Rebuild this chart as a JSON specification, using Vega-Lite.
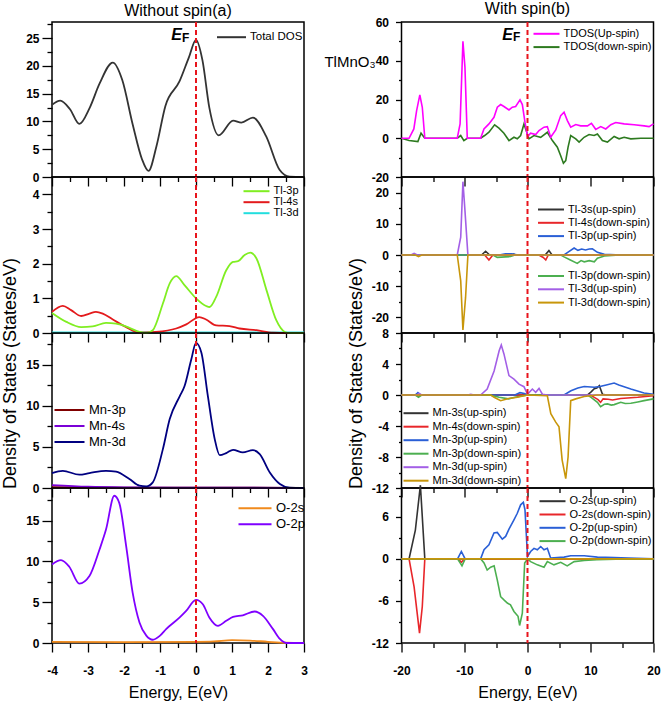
{
  "$schema": "https://vega.github.io/schema/vega-lite/v6.json",
  "padding": {"left": 0, "top": 0, "right": 4, "bottom": 4},
  "background": "#ffffff",
  "config": {
    "font": "Liberation Sans",
    "view": {"stroke": "#000000", "strokeWidth": 1.5},
    "axis": {"domain": false, "grid": false, "tickColor": "#000000", "tickWidth": 1.3, "labelFont": "Liberation Sans", "labelFontWeight": "bold", "labelFontSize": 12, "labelColor": "#000000", "labelOverlap": false, "labelFlush": false, "labelBound": false, "titleFont": "Liberation Sans", "titleFontWeight": "normal", "titleColor": "#000000"},
    "legend": {"orient": "none", "padding": 0, "labelFont": "Liberation Sans", "labelColor": "#000000", "symbolStrokeWidth": 2, "labelOffset": 3, "rowPadding": 1, "symbolSize": 100},
    "title": {"font": "Liberation Sans", "fontWeight": "normal", "fontSize": 16, "color": "#000000"},
    "text": {"font": "Liberation Sans"}
  },
  "datasets": {
    "L1": [
      {"x": -4.0, "y": 13.0, "s": "Total DOS"}, {"x": -3.77, "y": 13.75, "s": "Total DOS"}, {"x": -3.5, "y": 12.2, "s": "Total DOS"}, {"x": -3.24, "y": 9.55, "s": "Total DOS"}, {"x": -2.95, "y": 12.5, "s": "Total DOS"}, {"x": -2.68, "y": 16.8, "s": "Total DOS"}, {"x": -2.31, "y": 20.6, "s": "Total DOS"}, {"x": -2.05, "y": 17.5, "s": "Total DOS"}, {"x": -1.76, "y": 9.5, "s": "Total DOS"}, {"x": -1.5, "y": 3.2, "s": "Total DOS"}, {"x": -1.32, "y": 1.1, "s": "Total DOS"}, {"x": -1.1, "y": 5.5, "s": "Total DOS"}, {"x": -0.85, "y": 12.8, "s": "Total DOS"}, {"x": -0.46, "y": 17.2, "s": "Total DOS"}, {"x": -0.2, "y": 21.5, "s": "Total DOS"}, {"x": 0.0, "y": 24.7, "s": "Total DOS"}, {"x": 0.18, "y": 21.0, "s": "Total DOS"}, {"x": 0.37, "y": 12.5, "s": "Total DOS"}, {"x": 0.63, "y": 7.5, "s": "Total DOS"}, {"x": 1.03, "y": 10.15, "s": "Total DOS"}, {"x": 1.26, "y": 9.8, "s": "Total DOS"}, {"x": 1.58, "y": 10.7, "s": "Total DOS"}, {"x": 1.95, "y": 7.3, "s": "Total DOS"}, {"x": 2.32, "y": 1.3, "s": "Total DOS"}, {"x": 2.6, "y": 0.05, "s": "Total DOS"}, {"x": 3.0, "y": 0.0, "s": "Total DOS"}
    ],
    "L2": [
      {"x": -4.0, "y": 0.02, "s": "Tl-3d"}, {"x": 3.0, "y": 0.02, "s": "Tl-3d"},
      {"x": -4.0, "y": 0.61, "s": "Tl-4s"}, {"x": -3.7, "y": 0.78, "s": "Tl-4s"}, {"x": -3.47, "y": 0.66, "s": "Tl-4s"}, {"x": -3.19, "y": 0.49, "s": "Tl-4s"}, {"x": -2.96, "y": 0.56, "s": "Tl-4s"}, {"x": -2.78, "y": 0.61, "s": "Tl-4s"}, {"x": -2.59, "y": 0.56, "s": "Tl-4s"}, {"x": -2.31, "y": 0.39, "s": "Tl-4s"}, {"x": -1.94, "y": 0.17, "s": "Tl-4s"}, {"x": -1.57, "y": 0.01, "s": "Tl-4s"}, {"x": -1.11, "y": 0.03, "s": "Tl-4s"}, {"x": -0.55, "y": 0.13, "s": "Tl-4s"}, {"x": -0.27, "y": 0.25, "s": "Tl-4s"}, {"x": 0.09, "y": 0.46, "s": "Tl-4s"}, {"x": 0.28, "y": 0.39, "s": "Tl-4s"}, {"x": 0.56, "y": 0.22, "s": "Tl-4s"}, {"x": 0.93, "y": 0.2, "s": "Tl-4s"}, {"x": 1.21, "y": 0.13, "s": "Tl-4s"}, {"x": 1.68, "y": 0.08, "s": "Tl-4s"}, {"x": 2.14, "y": 0.01, "s": "Tl-4s"}, {"x": 2.51, "y": 0.0, "s": "Tl-4s"}, {"x": 3.0, "y": 0.0, "s": "Tl-4s"},
      {"x": -4.0, "y": 0.58, "s": "Tl-3p"}, {"x": -3.6, "y": 0.32, "s": "Tl-3p"}, {"x": -3.19, "y": 0.17, "s": "Tl-3p"}, {"x": -2.87, "y": 0.19, "s": "Tl-3p"}, {"x": -2.5, "y": 0.29, "s": "Tl-3p"}, {"x": -2.22, "y": 0.27, "s": "Tl-3p"}, {"x": -1.85, "y": 0.15, "s": "Tl-3p"}, {"x": -1.57, "y": 0.03, "s": "Tl-3p"}, {"x": -1.38, "y": 0.0, "s": "Tl-3p"}, {"x": -1.2, "y": 0.08, "s": "Tl-3p"}, {"x": -0.92, "y": 0.85, "s": "Tl-3p"}, {"x": -0.73, "y": 1.43, "s": "Tl-3p"}, {"x": -0.55, "y": 1.64, "s": "Tl-3p"}, {"x": -0.32, "y": 1.38, "s": "Tl-3p"}, {"x": 0.0, "y": 1.0, "s": "Tl-3p"}, {"x": 0.28, "y": 0.78, "s": "Tl-3p"}, {"x": 0.38, "y": 0.75, "s": "Tl-3p"}, {"x": 0.56, "y": 1.04, "s": "Tl-3p"}, {"x": 0.84, "y": 1.81, "s": "Tl-3p"}, {"x": 1.03, "y": 2.05, "s": "Tl-3p"}, {"x": 1.17, "y": 2.07, "s": "Tl-3p"}, {"x": 1.35, "y": 2.25, "s": "Tl-3p"}, {"x": 1.51, "y": 2.32, "s": "Tl-3p"}, {"x": 1.68, "y": 2.15, "s": "Tl-3p"}, {"x": 1.96, "y": 1.23, "s": "Tl-3p"}, {"x": 2.23, "y": 0.37, "s": "Tl-3p"}, {"x": 2.47, "y": 0.03, "s": "Tl-3p"}, {"x": 2.6, "y": 0.0, "s": "Tl-3p"}, {"x": 3.0, "y": 0.0, "s": "Tl-3p"}
    ],
    "L3": [
      {"x": -4.0, "y": 0.1, "s": "Mn-3p"}, {"x": -2.0, "y": 0.05, "s": "Mn-3p"}, {"x": 0.0, "y": 0.05, "s": "Mn-3p"}, {"x": 3.0, "y": 0.02, "s": "Mn-3p"},
      {"x": -4.0, "y": 0.35, "s": "Mn-4s"}, {"x": -3.0, "y": 0.15, "s": "Mn-4s"}, {"x": -2.0, "y": 0.08, "s": "Mn-4s"}, {"x": 0.0, "y": 0.05, "s": "Mn-4s"}, {"x": 2.5, "y": 0.02, "s": "Mn-4s"}, {"x": 3.0, "y": 0.0, "s": "Mn-4s"},
      {"x": -4.0, "y": 1.82, "s": "Mn-3d"}, {"x": -3.7, "y": 2.1, "s": "Mn-3d"}, {"x": -3.24, "y": 1.62, "s": "Mn-3d"}, {"x": -2.96, "y": 1.82, "s": "Mn-3d"}, {"x": -2.5, "y": 2.1, "s": "Mn-3d"}, {"x": -2.22, "y": 1.99, "s": "Mn-3d"}, {"x": -1.85, "y": 1.1, "s": "Mn-3d"}, {"x": -1.57, "y": 0.28, "s": "Mn-3d"}, {"x": -1.38, "y": 0.2, "s": "Mn-3d"}, {"x": -1.2, "y": 0.69, "s": "Mn-3d"}, {"x": -0.92, "y": 4.74, "s": "Mn-3d"}, {"x": -0.73, "y": 8.4, "s": "Mn-3d"}, {"x": -0.45, "y": 11.2, "s": "Mn-3d"}, {"x": -0.32, "y": 12.4, "s": "Mn-3d"}, {"x": -0.13, "y": 15.7, "s": "Mn-3d"}, {"x": 0.0, "y": 17.7, "s": "Mn-3d"}, {"x": 0.15, "y": 16.5, "s": "Mn-3d"}, {"x": 0.33, "y": 11.2, "s": "Mn-3d"}, {"x": 0.52, "y": 5.96, "s": "Mn-3d"}, {"x": 0.66, "y": 4.0, "s": "Mn-3d"}, {"x": 0.84, "y": 4.26, "s": "Mn-3d"}, {"x": 1.03, "y": 4.66, "s": "Mn-3d"}, {"x": 1.3, "y": 4.34, "s": "Mn-3d"}, {"x": 1.58, "y": 4.62, "s": "Mn-3d"}, {"x": 1.77, "y": 4.13, "s": "Mn-3d"}, {"x": 2.05, "y": 1.9, "s": "Mn-3d"}, {"x": 2.33, "y": 0.49, "s": "Mn-3d"}, {"x": 2.6, "y": 0.04, "s": "Mn-3d"}, {"x": 3.0, "y": 0.0, "s": "Mn-3d"}
    ],
    "L4": [
      {"x": -4.0, "y": 0.15, "s": "O-2s"}, {"x": -2.0, "y": 0.1, "s": "O-2s"}, {"x": 0.0, "y": 0.15, "s": "O-2s"}, {"x": 0.5, "y": 0.2, "s": "O-2s"}, {"x": 1.0, "y": 0.35, "s": "O-2s"}, {"x": 1.5, "y": 0.3, "s": "O-2s"}, {"x": 2.0, "y": 0.15, "s": "O-2s"}, {"x": 2.5, "y": 0.03, "s": "O-2s"}, {"x": 3.0, "y": 0.0, "s": "O-2s"},
      {"x": -4.0, "y": 9.63, "s": "O-2p"}, {"x": -3.75, "y": 10.16, "s": "O-2p"}, {"x": -3.52, "y": 9.35, "s": "O-2p"}, {"x": -3.24, "y": 7.28, "s": "O-2p"}, {"x": -2.96, "y": 8.2, "s": "O-2p"}, {"x": -2.68, "y": 11.46, "s": "O-2p"}, {"x": -2.5, "y": 13.9, "s": "O-2p"}, {"x": -2.27, "y": 18.05, "s": "O-2p"}, {"x": -2.13, "y": 17.15, "s": "O-2p"}, {"x": -1.94, "y": 11.87, "s": "O-2p"}, {"x": -1.76, "y": 6.18, "s": "O-2p"}, {"x": -1.57, "y": 2.52, "s": "O-2p"}, {"x": -1.38, "y": 0.9, "s": "O-2p"}, {"x": -1.2, "y": 0.4, "s": "O-2p"}, {"x": -1.0, "y": 0.9, "s": "O-2p"}, {"x": -0.83, "y": 1.7, "s": "O-2p"}, {"x": -0.46, "y": 3.1, "s": "O-2p"}, {"x": -0.28, "y": 3.9, "s": "O-2p"}, {"x": 0.0, "y": 5.28, "s": "O-2p"}, {"x": 0.19, "y": 4.75, "s": "O-2p"}, {"x": 0.37, "y": 3.13, "s": "O-2p"}, {"x": 0.61, "y": 2.11, "s": "O-2p"}, {"x": 0.84, "y": 2.72, "s": "O-2p"}, {"x": 1.03, "y": 3.2, "s": "O-2p"}, {"x": 1.3, "y": 3.4, "s": "O-2p"}, {"x": 1.63, "y": 3.86, "s": "O-2p"}, {"x": 1.86, "y": 3.33, "s": "O-2p"}, {"x": 2.14, "y": 1.7, "s": "O-2p"}, {"x": 2.33, "y": 0.5, "s": "O-2p"}, {"x": 2.51, "y": 0.0, "s": "O-2p"}, {"x": 3.0, "y": 0.0, "s": "O-2p"}
    ],
    "R1": [
      {"x": -20, "y": 0, "s": "TDOS(down-spin)"}, {"x": -18.8, "y": -1.2, "s": "TDOS(down-spin)"}, {"x": -17.4, "y": -1.7, "s": "TDOS(down-spin)"}, {"x": -16.9, "y": 2.6, "s": "TDOS(down-spin)"}, {"x": -16.3, "y": 0, "s": "TDOS(down-spin)"}, {"x": -11.15, "y": 0, "s": "TDOS(down-spin)"}, {"x": -10.6, "y": 1.4, "s": "TDOS(down-spin)"}, {"x": -10.1, "y": -1.2, "s": "TDOS(down-spin)"}, {"x": -9.56, "y": 0, "s": "TDOS(down-spin)"}, {"x": -7.44, "y": 0, "s": "TDOS(down-spin)"}, {"x": -6.8, "y": 1.4, "s": "TDOS(down-spin)"}, {"x": -6.12, "y": 3.1, "s": "TDOS(down-spin)"}, {"x": -5.22, "y": 6.9, "s": "TDOS(down-spin)"}, {"x": -4.53, "y": 5.2, "s": "TDOS(down-spin)"}, {"x": -3.74, "y": 2.6, "s": "TDOS(down-spin)"}, {"x": -2.94, "y": -1.2, "s": "TDOS(down-spin)"}, {"x": -2.15, "y": 0.5, "s": "TDOS(down-spin)"}, {"x": -1.62, "y": -0.3, "s": "TDOS(down-spin)"}, {"x": -1.09, "y": 1.4, "s": "TDOS(down-spin)"}, {"x": -0.56, "y": 7.4, "s": "TDOS(down-spin)"}, {"x": -0.29, "y": 4.8, "s": "TDOS(down-spin)"}, {"x": 0.24, "y": -0.3, "s": "TDOS(down-spin)"}, {"x": 1.03, "y": 1.4, "s": "TDOS(down-spin)"}, {"x": 2.09, "y": 0.5, "s": "TDOS(down-spin)"}, {"x": 3.15, "y": 3.1, "s": "TDOS(down-spin)"}, {"x": 3.95, "y": -1.2, "s": "TDOS(down-spin)"}, {"x": 4.74, "y": -4.6, "s": "TDOS(down-spin)"}, {"x": 5.27, "y": -9, "s": "TDOS(down-spin)"}, {"x": 5.7, "y": -12.9, "s": "TDOS(down-spin)"}, {"x": 6.07, "y": -11.5, "s": "TDOS(down-spin)"}, {"x": 6.44, "y": -4.6, "s": "TDOS(down-spin)"}, {"x": 6.86, "y": 1.4, "s": "TDOS(down-spin)"}, {"x": 7.66, "y": -0.3, "s": "TDOS(down-spin)"}, {"x": 8.19, "y": -2, "s": "TDOS(down-spin)"}, {"x": 8.98, "y": 0.5, "s": "TDOS(down-spin)"}, {"x": 9.77, "y": 1.9, "s": "TDOS(down-spin)"}, {"x": 10.57, "y": 1.4, "s": "TDOS(down-spin)"}, {"x": 11.1, "y": 2.2, "s": "TDOS(down-spin)"}, {"x": 11.89, "y": -1.2, "s": "TDOS(down-spin)"}, {"x": 12.69, "y": -2, "s": "TDOS(down-spin)"}, {"x": 13.75, "y": 0.9, "s": "TDOS(down-spin)"}, {"x": 14.54, "y": -0.3, "s": "TDOS(down-spin)"}, {"x": 15.34, "y": 0.5, "s": "TDOS(down-spin)"}, {"x": 16.4, "y": -0.3, "s": "TDOS(down-spin)"}, {"x": 18, "y": 0, "s": "TDOS(down-spin)"}, {"x": 20, "y": 0, "s": "TDOS(down-spin)"},
      {"x": -20, "y": 0, "s": "TDOS(Up-spin)"}, {"x": -18.8, "y": 0, "s": "TDOS(Up-spin)"}, {"x": -18.04, "y": 4.8, "s": "TDOS(Up-spin)"}, {"x": -17.6, "y": 14.3, "s": "TDOS(Up-spin)"}, {"x": -17.09, "y": 22.4, "s": "TDOS(Up-spin)"}, {"x": -16.7, "y": 16, "s": "TDOS(Up-spin)"}, {"x": -16.3, "y": 0, "s": "TDOS(Up-spin)"}, {"x": -11.15, "y": 0, "s": "TDOS(Up-spin)"}, {"x": -10.7, "y": 7.4, "s": "TDOS(Up-spin)"}, {"x": -10.25, "y": 50, "s": "TDOS(Up-spin)"}, {"x": -9.93, "y": 36.7, "s": "TDOS(Up-spin)"}, {"x": -9.56, "y": 0, "s": "TDOS(Up-spin)"}, {"x": -7.44, "y": 0, "s": "TDOS(Up-spin)"}, {"x": -6.91, "y": 4.8, "s": "TDOS(Up-spin)"}, {"x": -6.12, "y": 7.4, "s": "TDOS(Up-spin)"}, {"x": -5.32, "y": 10.8, "s": "TDOS(Up-spin)"}, {"x": -4.79, "y": 16, "s": "TDOS(Up-spin)"}, {"x": -4.26, "y": 17.4, "s": "TDOS(Up-spin)"}, {"x": -3.74, "y": 16.4, "s": "TDOS(Up-spin)"}, {"x": -2.94, "y": 14.6, "s": "TDOS(Up-spin)"}, {"x": -2.41, "y": 16, "s": "TDOS(Up-spin)"}, {"x": -1.88, "y": 16.4, "s": "TDOS(Up-spin)"}, {"x": -1.19, "y": 19.8, "s": "TDOS(Up-spin)"}, {"x": -0.82, "y": 17.4, "s": "TDOS(Up-spin)"}, {"x": -0.4, "y": 8.3, "s": "TDOS(Up-spin)"}, {"x": 0.0, "y": 0.9, "s": "TDOS(Up-spin)"}, {"x": 0.5, "y": 2.6, "s": "TDOS(Up-spin)"}, {"x": 1.3, "y": 1.9, "s": "TDOS(Up-spin)"}, {"x": 1.83, "y": 4, "s": "TDOS(Up-spin)"}, {"x": 2.62, "y": 5.7, "s": "TDOS(Up-spin)"}, {"x": 3.15, "y": 6, "s": "TDOS(Up-spin)"}, {"x": 3.68, "y": 0.5, "s": "TDOS(Up-spin)"}, {"x": 4.48, "y": 4.3, "s": "TDOS(Up-spin)"}, {"x": 5.27, "y": 11.7, "s": "TDOS(Up-spin)"}, {"x": 5.8, "y": 13.4, "s": "TDOS(Up-spin)"}, {"x": 6.33, "y": 9.1, "s": "TDOS(Up-spin)"}, {"x": 6.86, "y": 5.7, "s": "TDOS(Up-spin)"}, {"x": 7.66, "y": 7.1, "s": "TDOS(Up-spin)"}, {"x": 8.45, "y": 6.4, "s": "TDOS(Up-spin)"}, {"x": 9.51, "y": 6.4, "s": "TDOS(Up-spin)"}, {"x": 10.15, "y": 7.7, "s": "TDOS(Up-spin)"}, {"x": 10.83, "y": 4.6, "s": "TDOS(Up-spin)"}, {"x": 11.63, "y": 6, "s": "TDOS(Up-spin)"}, {"x": 12.42, "y": 4.8, "s": "TDOS(Up-spin)"}, {"x": 13.22, "y": 7, "s": "TDOS(Up-spin)"}, {"x": 14.0, "y": 8.1, "s": "TDOS(Up-spin)"}, {"x": 15.34, "y": 7.4, "s": "TDOS(Up-spin)"}, {"x": 16.93, "y": 7, "s": "TDOS(Up-spin)"}, {"x": 18.52, "y": 6.4, "s": "TDOS(Up-spin)"}, {"x": 19.3, "y": 6, "s": "TDOS(Up-spin)"}, {"x": 20, "y": 7.4, "s": "TDOS(Up-spin)"}
    ],
    "R2": [
      {"x": -20, "y": 0, "s": "Tl-3s(up-spin)"}, {"x": -7.3, "y": 0, "s": "Tl-3s(up-spin)"}, {"x": -6.65, "y": 1.2, "s": "Tl-3s(up-spin)"}, {"x": -6.0, "y": 0, "s": "Tl-3s(up-spin)"}, {"x": -2.5, "y": 0, "s": "Tl-3s(up-spin)"}, {"x": -2.2, "y": 0.3, "s": "Tl-3s(up-spin)"}, {"x": -1.9, "y": 0, "s": "Tl-3s(up-spin)"}, {"x": 2.8, "y": 0, "s": "Tl-3s(up-spin)"}, {"x": 3.4, "y": 1.4, "s": "Tl-3s(up-spin)"}, {"x": 3.9, "y": 0, "s": "Tl-3s(up-spin)"}, {"x": 20, "y": 0, "s": "Tl-3s(up-spin)"},
      {"x": -20, "y": 0, "s": "Tl-4s(down-spin)"}, {"x": -6.8, "y": 0, "s": "Tl-4s(down-spin)"}, {"x": -6.12, "y": -1.6, "s": "Tl-4s(down-spin)"}, {"x": -5.5, "y": 0, "s": "Tl-4s(down-spin)"}, {"x": 1.8, "y": 0, "s": "Tl-4s(down-spin)"}, {"x": 2.5, "y": -0.8, "s": "Tl-4s(down-spin)"}, {"x": 2.9, "y": -1.6, "s": "Tl-4s(down-spin)"}, {"x": 3.3, "y": 0, "s": "Tl-4s(down-spin)"}, {"x": 20, "y": 0, "s": "Tl-4s(down-spin)"},
      {"x": -20, "y": 0, "s": "Tl-3p(up-spin)"}, {"x": -4.5, "y": 0, "s": "Tl-3p(up-spin)"}, {"x": -3.5, "y": 0.4, "s": "Tl-3p(up-spin)"}, {"x": -2.5, "y": 0.4, "s": "Tl-3p(up-spin)"}, {"x": -1.5, "y": 0, "s": "Tl-3p(up-spin)"}, {"x": 5.8, "y": 0, "s": "Tl-3p(up-spin)"}, {"x": 6.5, "y": 1.0, "s": "Tl-3p(up-spin)"}, {"x": 7.4, "y": 2.25, "s": "Tl-3p(up-spin)"}, {"x": 8.0, "y": 1.5, "s": "Tl-3p(up-spin)"}, {"x": 8.6, "y": 1.9, "s": "Tl-3p(up-spin)"}, {"x": 9.2, "y": 1.6, "s": "Tl-3p(up-spin)"}, {"x": 9.8, "y": 1.9, "s": "Tl-3p(up-spin)"}, {"x": 10.3, "y": 2.0, "s": "Tl-3p(up-spin)"}, {"x": 11.1, "y": 0.85, "s": "Tl-3p(up-spin)"}, {"x": 12.2, "y": 0.2, "s": "Tl-3p(up-spin)"}, {"x": 14, "y": 0.1, "s": "Tl-3p(up-spin)"}, {"x": 20, "y": 0.1, "s": "Tl-3p(up-spin)"},
      {"x": -20, "y": 0, "s": "Tl-3p(down-spin)"}, {"x": -5.5, "y": 0, "s": "Tl-3p(down-spin)"}, {"x": -4.8, "y": -0.75, "s": "Tl-3p(down-spin)"}, {"x": -3.5, "y": -0.6, "s": "Tl-3p(down-spin)"}, {"x": -2.7, "y": -0.5, "s": "Tl-3p(down-spin)"}, {"x": -2.0, "y": 0, "s": "Tl-3p(down-spin)"}, {"x": 5.3, "y": 0, "s": "Tl-3p(down-spin)"}, {"x": 5.8, "y": -0.6, "s": "Tl-3p(down-spin)"}, {"x": 6.8, "y": -1.6, "s": "Tl-3p(down-spin)"}, {"x": 7.9, "y": -2.7, "s": "Tl-3p(down-spin)"}, {"x": 8.5, "y": -1.8, "s": "Tl-3p(down-spin)"}, {"x": 9.0, "y": -2.2, "s": "Tl-3p(down-spin)"}, {"x": 9.8, "y": -1.8, "s": "Tl-3p(down-spin)"}, {"x": 10.6, "y": -2.2, "s": "Tl-3p(down-spin)"}, {"x": 11.1, "y": -1.0, "s": "Tl-3p(down-spin)"}, {"x": 12.2, "y": -0.3, "s": "Tl-3p(down-spin)"}, {"x": 14, "y": -0.1, "s": "Tl-3p(down-spin)"}, {"x": 20, "y": 0, "s": "Tl-3p(down-spin)"},
      {"x": -20, "y": 0, "s": "Tl-3d(up-spin)"}, {"x": -18.5, "y": 0, "s": "Tl-3d(up-spin)"}, {"x": -18.0, "y": 0.5, "s": "Tl-3d(up-spin)"}, {"x": -17.5, "y": 0, "s": "Tl-3d(up-spin)"}, {"x": -11.15, "y": 0, "s": "Tl-3d(up-spin)"}, {"x": -10.6, "y": 5.7, "s": "Tl-3d(up-spin)"}, {"x": -10.25, "y": 23.5, "s": "Tl-3d(up-spin)"}, {"x": -9.93, "y": 14.3, "s": "Tl-3d(up-spin)"}, {"x": -9.46, "y": 0, "s": "Tl-3d(up-spin)"}, {"x": 20, "y": 0, "s": "Tl-3d(up-spin)"},
      {"x": -20, "y": 0, "s": "Tl-3d(down-spin)"}, {"x": -17.8, "y": 0, "s": "Tl-3d(down-spin)"}, {"x": -17.3, "y": -0.5, "s": "Tl-3d(down-spin)"}, {"x": -16.8, "y": 0, "s": "Tl-3d(down-spin)"}, {"x": -11.15, "y": 0, "s": "Tl-3d(down-spin)"}, {"x": -10.6, "y": -8.3, "s": "Tl-3d(down-spin)"}, {"x": -10.25, "y": -24, "s": "Tl-3d(down-spin)"}, {"x": -9.83, "y": -13.6, "s": "Tl-3d(down-spin)"}, {"x": -9.46, "y": 0, "s": "Tl-3d(down-spin)"}, {"x": 20, "y": 0, "s": "Tl-3d(down-spin)"}
    ],
    "R3": [
      {"x": -20, "y": 0, "s": "Mn-3s(up-spin)"}, {"x": -17.8, "y": 0, "s": "Mn-3s(up-spin)"}, {"x": -17.4, "y": 0.2, "s": "Mn-3s(up-spin)"}, {"x": -17, "y": 0, "s": "Mn-3s(up-spin)"}, {"x": 9.5, "y": 0, "s": "Mn-3s(up-spin)"}, {"x": 10.1, "y": 0.4, "s": "Mn-3s(up-spin)"}, {"x": 10.6, "y": 0.8, "s": "Mn-3s(up-spin)"}, {"x": 11.0, "y": 0.9, "s": "Mn-3s(up-spin)"}, {"x": 11.4, "y": 1.2, "s": "Mn-3s(up-spin)"}, {"x": 11.9, "y": 0.1, "s": "Mn-3s(up-spin)"}, {"x": 12.5, "y": 0, "s": "Mn-3s(up-spin)"}, {"x": 20, "y": 0, "s": "Mn-3s(up-spin)"},
      {"x": -20, "y": 0, "s": "Mn-4s(down-spin)"}, {"x": -17.6, "y": 0, "s": "Mn-4s(down-spin)"}, {"x": -17.3, "y": -0.2, "s": "Mn-4s(down-spin)"}, {"x": -17, "y": 0, "s": "Mn-4s(down-spin)"}, {"x": 10, "y": 0, "s": "Mn-4s(down-spin)"}, {"x": 10.6, "y": -0.3, "s": "Mn-4s(down-spin)"}, {"x": 11.2, "y": -0.6, "s": "Mn-4s(down-spin)"}, {"x": 11.6, "y": -0.95, "s": "Mn-4s(down-spin)"}, {"x": 12.0, "y": -0.5, "s": "Mn-4s(down-spin)"}, {"x": 12.8, "y": -0.55, "s": "Mn-4s(down-spin)"}, {"x": 13.5, "y": -0.65, "s": "Mn-4s(down-spin)"}, {"x": 14.8, "y": -0.45, "s": "Mn-4s(down-spin)"}, {"x": 17.5, "y": -0.3, "s": "Mn-4s(down-spin)"}, {"x": 20, "y": -0.1, "s": "Mn-4s(down-spin)"},
      {"x": -20, "y": 0, "s": "Mn-3p(up-spin)"}, {"x": -17.8, "y": 0, "s": "Mn-3p(up-spin)"}, {"x": -17.4, "y": 0.3, "s": "Mn-3p(up-spin)"}, {"x": -17, "y": 0, "s": "Mn-3p(up-spin)"}, {"x": -2, "y": 0, "s": "Mn-3p(up-spin)"}, {"x": -1.2, "y": 0.3, "s": "Mn-3p(up-spin)"}, {"x": -0.5, "y": 0.2, "s": "Mn-3p(up-spin)"}, {"x": 0, "y": 0, "s": "Mn-3p(up-spin)"}, {"x": 5.8, "y": 0, "s": "Mn-3p(up-spin)"}, {"x": 6.9, "y": 0.55, "s": "Mn-3p(up-spin)"}, {"x": 8.0, "y": 0.9, "s": "Mn-3p(up-spin)"}, {"x": 9.0, "y": 1.1, "s": "Mn-3p(up-spin)"}, {"x": 10.6, "y": 1.0, "s": "Mn-3p(up-spin)"}, {"x": 11.5, "y": 1.1, "s": "Mn-3p(up-spin)"}, {"x": 12.5, "y": 1.3, "s": "Mn-3p(up-spin)"}, {"x": 13.75, "y": 1.54, "s": "Mn-3p(up-spin)"}, {"x": 14.5, "y": 1.3, "s": "Mn-3p(up-spin)"}, {"x": 16.4, "y": 0.77, "s": "Mn-3p(up-spin)"}, {"x": 18.5, "y": 0.25, "s": "Mn-3p(up-spin)"}, {"x": 20, "y": 0.1, "s": "Mn-3p(up-spin)"},
      {"x": -20, "y": 0, "s": "Mn-3p(down-spin)"}, {"x": -17.8, "y": 0, "s": "Mn-3p(down-spin)"}, {"x": -17.3, "y": -0.3, "s": "Mn-3p(down-spin)"}, {"x": -16.8, "y": 0, "s": "Mn-3p(down-spin)"}, {"x": -6, "y": 0, "s": "Mn-3p(down-spin)"}, {"x": -4.5, "y": -0.3, "s": "Mn-3p(down-spin)"}, {"x": -3, "y": -0.5, "s": "Mn-3p(down-spin)"}, {"x": -2, "y": -0.3, "s": "Mn-3p(down-spin)"}, {"x": 0, "y": 0, "s": "Mn-3p(down-spin)"}, {"x": 9.5, "y": 0, "s": "Mn-3p(down-spin)"}, {"x": 10.1, "y": -0.3, "s": "Mn-3p(down-spin)"}, {"x": 11.1, "y": -0.94, "s": "Mn-3p(down-spin)"}, {"x": 11.6, "y": -1.5, "s": "Mn-3p(down-spin)"}, {"x": 12.2, "y": -1.2, "s": "Mn-3p(down-spin)"}, {"x": 12.7, "y": -1.15, "s": "Mn-3p(down-spin)"}, {"x": 13.3, "y": -1.3, "s": "Mn-3p(down-spin)"}, {"x": 13.75, "y": -1.24, "s": "Mn-3p(down-spin)"}, {"x": 14.8, "y": -0.94, "s": "Mn-3p(down-spin)"}, {"x": 15.5, "y": -1.1, "s": "Mn-3p(down-spin)"}, {"x": 16.4, "y": -1.07, "s": "Mn-3p(down-spin)"}, {"x": 17.5, "y": -0.9, "s": "Mn-3p(down-spin)"}, {"x": 18.5, "y": -0.73, "s": "Mn-3p(down-spin)"}, {"x": 20, "y": -0.5, "s": "Mn-3p(down-spin)"},
      {"x": -20, "y": 0, "s": "Mn-3d(up-spin)"}, {"x": -17.6, "y": 0, "s": "Mn-3d(up-spin)"}, {"x": -17.2, "y": 0.2, "s": "Mn-3d(up-spin)"}, {"x": -16.8, "y": 0, "s": "Mn-3d(up-spin)"}, {"x": -9.5, "y": 0, "s": "Mn-3d(up-spin)"}, {"x": -9.0, "y": 0.1, "s": "Mn-3d(up-spin)"}, {"x": -8.5, "y": 0, "s": "Mn-3d(up-spin)"}, {"x": -7.44, "y": 0, "s": "Mn-3d(up-spin)"}, {"x": -6.4, "y": 0.77, "s": "Mn-3d(up-spin)"}, {"x": -5.3, "y": 3.1, "s": "Mn-3d(up-spin)"}, {"x": -4.5, "y": 5.7, "s": "Mn-3d(up-spin)"}, {"x": -4.16, "y": 6.45, "s": "Mn-3d(up-spin)"}, {"x": -3.74, "y": 5.3, "s": "Mn-3d(up-spin)"}, {"x": -2.94, "y": 2.5, "s": "Mn-3d(up-spin)"}, {"x": -2.15, "y": 2.05, "s": "Mn-3d(up-spin)"}, {"x": -1.35, "y": 1.4, "s": "Mn-3d(up-spin)"}, {"x": -0.56, "y": 1.07, "s": "Mn-3d(up-spin)"}, {"x": 0, "y": 0.1, "s": "Mn-3d(up-spin)"}, {"x": 0.77, "y": 0.77, "s": "Mn-3d(up-spin)"}, {"x": 1.3, "y": 0.35, "s": "Mn-3d(up-spin)"}, {"x": 1.83, "y": 0.85, "s": "Mn-3d(up-spin)"}, {"x": 2.36, "y": 0.1, "s": "Mn-3d(up-spin)"}, {"x": 3.15, "y": 0, "s": "Mn-3d(up-spin)"}, {"x": 20, "y": 0, "s": "Mn-3d(up-spin)"},
      {"x": -20, "y": 0, "s": "Mn-3d(down-spin)"}, {"x": -5.8, "y": 0, "s": "Mn-3d(down-spin)"}, {"x": -5.3, "y": -0.3, "s": "Mn-3d(down-spin)"}, {"x": -4.26, "y": -0.73, "s": "Mn-3d(down-spin)"}, {"x": -3, "y": -0.45, "s": "Mn-3d(down-spin)"}, {"x": -1.6, "y": -0.3, "s": "Mn-3d(down-spin)"}, {"x": 0, "y": 0, "s": "Mn-3d(down-spin)"}, {"x": 3.15, "y": -0.1, "s": "Mn-3d(down-spin)"}, {"x": 3.7, "y": -2.4, "s": "Mn-3d(down-spin)"}, {"x": 4.48, "y": -3.5, "s": "Mn-3d(down-spin)"}, {"x": 5.0, "y": -4.1, "s": "Mn-3d(down-spin)"}, {"x": 5.5, "y": -8.4, "s": "Mn-3d(down-spin)"}, {"x": 6.07, "y": -10.8, "s": "Mn-3d(down-spin)"}, {"x": 6.44, "y": -8, "s": "Mn-3d(down-spin)"}, {"x": 6.86, "y": -0.73, "s": "Mn-3d(down-spin)"}, {"x": 7.66, "y": -0.5, "s": "Mn-3d(down-spin)"}, {"x": 9, "y": -0.2, "s": "Mn-3d(down-spin)"}, {"x": 11, "y": 0, "s": "Mn-3d(down-spin)"}, {"x": 20, "y": 0, "s": "Mn-3d(down-spin)"}
    ],
    "R4": [
      {"x": -20, "y": 0, "s": "O-2s(up-spin)"}, {"x": -18.8, "y": 0, "s": "O-2s(up-spin)"}, {"x": -17.8, "y": 4.1, "s": "O-2s(up-spin)"}, {"x": -17.0, "y": 10.5, "s": "O-2s(up-spin)"}, {"x": -16.3, "y": 0, "s": "O-2s(up-spin)"}, {"x": 20, "y": 0, "s": "O-2s(up-spin)"},
      {"x": -20, "y": 0, "s": "O-2s(down-spin)"}, {"x": -18.8, "y": 0, "s": "O-2s(down-spin)"}, {"x": -18.0, "y": -4, "s": "O-2s(down-spin)"}, {"x": -17.14, "y": -10.6, "s": "O-2s(down-spin)"}, {"x": -16.7, "y": -6.8, "s": "O-2s(down-spin)"}, {"x": -16.3, "y": 0, "s": "O-2s(down-spin)"}, {"x": -11, "y": 0, "s": "O-2s(down-spin)"}, {"x": -10.5, "y": -0.5, "s": "O-2s(down-spin)"}, {"x": -10, "y": 0, "s": "O-2s(down-spin)"}, {"x": 20, "y": 0, "s": "O-2s(down-spin)"},
      {"x": -20, "y": 0, "s": "O-2p(up-spin)"}, {"x": -11.1, "y": 0, "s": "O-2p(up-spin)"}, {"x": -10.5, "y": 1.05, "s": "O-2p(up-spin)"}, {"x": -9.9, "y": 0, "s": "O-2p(up-spin)"}, {"x": -7.44, "y": 0, "s": "O-2p(up-spin)"}, {"x": -6.9, "y": 1.3, "s": "O-2p(up-spin)"}, {"x": -6.12, "y": 2, "s": "O-2p(up-spin)"}, {"x": -5.32, "y": 3.7, "s": "O-2p(up-spin)"}, {"x": -4.8, "y": 3.76, "s": "O-2p(up-spin)"}, {"x": -4, "y": 2.8, "s": "O-2p(up-spin)"}, {"x": -3.47, "y": 3.2, "s": "O-2p(up-spin)"}, {"x": -2.94, "y": 4.24, "s": "O-2p(up-spin)"}, {"x": -2.15, "y": 5.57, "s": "O-2p(up-spin)"}, {"x": -1.62, "y": 6.5, "s": "O-2p(up-spin)"}, {"x": -1.09, "y": 7.7, "s": "O-2p(up-spin)"}, {"x": -0.66, "y": 8.05, "s": "O-2p(up-spin)"}, {"x": -0.4, "y": 7, "s": "O-2p(up-spin)"}, {"x": 0, "y": 0.33, "s": "O-2p(up-spin)"}, {"x": 0.5, "y": 1.05, "s": "O-2p(up-spin)"}, {"x": 1.03, "y": 1.5, "s": "O-2p(up-spin)"}, {"x": 1.56, "y": 1.3, "s": "O-2p(up-spin)"}, {"x": 2.1, "y": 1.76, "s": "O-2p(up-spin)"}, {"x": 2.62, "y": 1.3, "s": "O-2p(up-spin)"}, {"x": 3.15, "y": 1.5, "s": "O-2p(up-spin)"}, {"x": 3.68, "y": 0.1, "s": "O-2p(up-spin)"}, {"x": 5.8, "y": 0.24, "s": "O-2p(up-spin)"}, {"x": 6.86, "y": 0.43, "s": "O-2p(up-spin)"}, {"x": 9, "y": 0.43, "s": "O-2p(up-spin)"}, {"x": 11.1, "y": 0.24, "s": "O-2p(up-spin)"}, {"x": 13.75, "y": 0.2, "s": "O-2p(up-spin)"}, {"x": 16, "y": 0.1, "s": "O-2p(up-spin)"}, {"x": 20, "y": 0, "s": "O-2p(up-spin)"},
      {"x": -20, "y": 0, "s": "O-2p(down-spin)"}, {"x": -11.1, "y": 0, "s": "O-2p(down-spin)"}, {"x": -10.4, "y": -1, "s": "O-2p(down-spin)"}, {"x": -9.9, "y": 0, "s": "O-2p(down-spin)"}, {"x": -7.44, "y": 0, "s": "O-2p(down-spin)"}, {"x": -6.9, "y": -0.6, "s": "O-2p(down-spin)"}, {"x": -6.4, "y": -1.6, "s": "O-2p(down-spin)"}, {"x": -5.85, "y": -1.2, "s": "O-2p(down-spin)"}, {"x": -5.3, "y": -1, "s": "O-2p(down-spin)"}, {"x": -4.8, "y": -3, "s": "O-2p(down-spin)"}, {"x": -4.26, "y": -5.4, "s": "O-2p(down-spin)"}, {"x": -3.74, "y": -5.86, "s": "O-2p(down-spin)"}, {"x": -3.2, "y": -6.3, "s": "O-2p(down-spin)"}, {"x": -2.7, "y": -6.57, "s": "O-2p(down-spin)"}, {"x": -2.15, "y": -7.5, "s": "O-2p(down-spin)"}, {"x": -1.5, "y": -8.2, "s": "O-2p(down-spin)"}, {"x": -1.25, "y": -9.5, "s": "O-2p(down-spin)"}, {"x": -0.82, "y": -7.76, "s": "O-2p(down-spin)"}, {"x": -0.45, "y": -0.6, "s": "O-2p(down-spin)"}, {"x": 0, "y": 0, "s": "O-2p(down-spin)"}, {"x": 0.5, "y": -0.4, "s": "O-2p(down-spin)"}, {"x": 1.56, "y": -0.86, "s": "O-2p(down-spin)"}, {"x": 2.62, "y": -1.2, "s": "O-2p(down-spin)"}, {"x": 3.15, "y": -0.4, "s": "O-2p(down-spin)"}, {"x": 4.2, "y": -0.86, "s": "O-2p(down-spin)"}, {"x": 5.27, "y": -0.5, "s": "O-2p(down-spin)"}, {"x": 6.3, "y": -1, "s": "O-2p(down-spin)"}, {"x": 7.4, "y": -0.4, "s": "O-2p(down-spin)"}, {"x": 9, "y": -0.24, "s": "O-2p(down-spin)"}, {"x": 11, "y": -0.14, "s": "O-2p(down-spin)"}, {"x": 14, "y": -0.05, "s": "O-2p(down-spin)"}, {"x": 20, "y": 0, "s": "O-2p(down-spin)"},
      {"x": -20, "y": 0, "s": "base"}, {"x": 20, "y": 0, "s": "base"}
    ]
  },
  "spacing": 13.5,
  "resolve": {"scale": {"color": "independent", "x": "independent", "y": "independent"}, "legend": {"color": "independent"}},
  "hconcat": [
    {
      "bounds": "flush",
      "spacing": 0,
      "resolve": {"scale": {"color": "independent", "x": "independent", "y": "independent"}, "legend": {"color": "independent"}},
      "vconcat": [
        {
          "width": 252, "height": 155,
          "title": {"text": "Without spin(a)", "offset": -1},
          "layer": [
            {"data": {"name": "L1"}, "mark": {"type": "line", "interpolate": "monotone", "strokeWidth": 1.8},
             "encoding": {
               "x": {"field": "x", "type": "quantitative", "scale": {"domain": [-4, 3], "nice": false, "zero": false}, "axis": {"title": null, "labels": false, "values": [-4, -3.5, -3, -2.5, -2, -1.5, -1, -0.5, 0, 0.5, 1, 1.5, 2, 2.5, 3], "tickSize": {"condition": {"test": "datum.value % 1 !== 0", "value": 4.5}, "value": 9}}},
               "y": {"field": "y", "type": "quantitative", "scale": {"domain": [0, 27.9], "nice": false}, "axis": {"title": null, "labelOverlap": false, "values": [0, 2.5, 5, 7.5, 10, 12.5, 15, 17.5, 20, 22.5, 25, 27.5], "labelExpr": "datum.value % 5 === 0 ? '' + datum.value : ''", "labelPadding": 3, "tickSize": {"condition": {"test": "datum.value % 5 !== 0", "value": 5}, "value": 10}}},
               "color": {"field": "s", "type": "nominal", "scale": {"domain": ["Total DOS"], "range": ["#333333"]}, "legend": {"title": null, "orient": "none", "legendX": 164, "legendY": 9.2, "symbolType": "M-1,0H4.8", "labelOffset": 22, "labelFontSize": 11.5}}
             }},
            {"data": {"values": [{}]}, "mark": {"type": "rule", "color": "#e8141c", "strokeWidth": 2, "strokeDash": [5, 3]}, "encoding": {"x": {"datum": 0, "type": "quantitative", "axis": {"title": null, "labels": false, "values": [-4, -3.5, -3, -2.5, -2, -1.5, -1, -0.5, 0, 0.5, 1, 1.5, 2, 2.5, 3], "tickSize": {"condition": {"test": "datum.value % 1 !== 0", "value": 4.5}, "value": 9}}}}},
            {"data": {"values": [{}]}, "mark": {"type": "text", "text": "E", "fontSize": 16, "fontWeight": "bold", "fontStyle": "italic", "align": "center", "baseline": "alphabetic", "color": "#000000"},
             "encoding": {
               "x": {"datum": -0.54, "type": "quantitative", "axis": {"title": null, "labels": false, "values": [-4, -3.5, -3, -2.5, -2, -1.5, -1, -0.5, 0, 0.5, 1, 1.5, 2, 2.5, 3], "tickSize": {"condition": {"test": "datum.value % 1 !== 0", "value": 4.5}, "value": 9}}},
               "y": {"datum": 24.7, "type": "quantitative", "axis": {"title": null, "labelOverlap": false, "values": [0, 2.5, 5, 7.5, 10, 12.5, 15, 17.5, 20, 22.5, 25, 27.5], "labelExpr": "datum.value % 5 === 0 ? '' + datum.value : ''", "labelPadding": 3, "tickSize": {"condition": {"test": "datum.value % 5 !== 0", "value": 5}, "value": 10}}}
             }},
            {"data": {"values": [{}]}, "mark": {"type": "text", "text": "F", "fontSize": 12, "fontWeight": "bold", "align": "center", "baseline": "alphabetic", "color": "#000000"},
             "encoding": {
               "x": {"datum": -0.29, "type": "quantitative", "axis": {"title": null, "labels": false, "values": [-4, -3.5, -3, -2.5, -2, -1.5, -1, -0.5, 0, 0.5, 1, 1.5, 2, 2.5, 3], "tickSize": {"condition": {"test": "datum.value % 1 !== 0", "value": 4.5}, "value": 9}}},
               "y": {"datum": 24.3, "type": "quantitative", "axis": {"title": null, "labelOverlap": false, "values": [0, 2.5, 5, 7.5, 10, 12.5, 15, 17.5, 20, 22.5, 25, 27.5], "labelExpr": "datum.value % 5 === 0 ? '' + datum.value : ''", "labelPadding": 3, "tickSize": {"condition": {"test": "datum.value % 5 !== 0", "value": 5}, "value": 10}}}
             }}
          ]
        },
        {
          "width": 252, "height": 156,
          "layer": [
            {"data": {"name": "L2"}, "mark": {"type": "line", "interpolate": "monotone", "strokeWidth": 1.8},
             "encoding": {
               "x": {"field": "x", "type": "quantitative", "scale": {"domain": [-4, 3], "nice": false, "zero": false}, "axis": {"title": null, "labels": false, "values": [-4, -3.5, -3, -2.5, -2, -1.5, -1, -0.5, 0, 0.5, 1, 1.5, 2, 2.5, 3], "tickSize": {"condition": {"test": "datum.value % 1 !== 0", "value": 4.5}, "value": 9}}},
               "y": {"field": "y", "type": "quantitative", "scale": {"domain": [0, 4.5], "nice": false}, "axis": {"title": null, "labelOverlap": false, "values": [0, 0.5, 1, 1.5, 2, 2.5, 3, 3.5, 4], "labelExpr": "datum.value % 1 === 0 ? '' + datum.value : ''", "labelPadding": 3, "tickSize": {"condition": {"test": "datum.value % 1 !== 0", "value": 5}, "value": 10}}},
               "color": {"field": "s", "type": "nominal", "scale": {"domain": ["Tl-3p", "Tl-4s", "Tl-3d"], "range": ["#80ee22", "#e31a1c", "#22dede"]}, "legend": {"title": null, "orient": "none", "legendX": 190.5, "legendY": 8.2, "symbolType": "M-1,0H4.2", "labelOffset": 19, "labelFontSize": 11, "rowPadding": 0}}
             }},
            {"data": {"values": [{}]}, "mark": {"type": "rule", "color": "#e8141c", "strokeWidth": 2, "strokeDash": [5, 3]}, "encoding": {"x": {"datum": 0, "type": "quantitative", "axis": {"title": null, "labels": false, "values": [-4, -3.5, -3, -2.5, -2, -1.5, -1, -0.5, 0, 0.5, 1, 1.5, 2, 2.5, 3], "tickSize": {"condition": {"test": "datum.value % 1 !== 0", "value": 4.5}, "value": 9}}}}}
          ]
        },
        {
          "width": 252, "height": 155,
          "layer": [
            {"data": {"name": "L3"}, "mark": {"type": "line", "interpolate": "monotone", "strokeWidth": 1.8},
             "encoding": {
               "x": {"field": "x", "type": "quantitative", "scale": {"domain": [-4, 3], "nice": false, "zero": false}, "axis": {"title": null, "labels": false, "values": [-4, -3.5, -3, -2.5, -2, -1.5, -1, -0.5, 0, 0.5, 1, 1.5, 2, 2.5, 3], "tickSize": {"condition": {"test": "datum.value % 1 !== 0", "value": 4.5}, "value": 9}}},
               "y": {"field": "y", "type": "quantitative", "scale": {"domain": [0, 18.9], "nice": false}, "axis": {"title": "Density of States (States/eV)", "titleFontSize": 18, "titleAngle": 270, "titleX": -37, "titleY": 40, "titleAlign": "center", "titleBaseline": "alphabetic", "labelOverlap": false, "values": [0, 2.5, 5, 7.5, 10, 12.5, 15, 17.5], "labelExpr": "datum.value % 5 === 0 ? '' + datum.value : ''", "labelPadding": 3, "tickSize": {"condition": {"test": "datum.value % 5 !== 0", "value": 5}, "value": 10}}},
               "color": {"field": "s", "type": "nominal", "scale": {"domain": ["Mn-3p", "Mn-4s", "Mn-3d"], "range": ["#800000", "#7a00d6", "#000080"]}, "legend": {"title": null, "orient": "none", "legendX": 1, "legendY": 70.5, "symbolType": "M-1,0H5", "labelOffset": 23, "labelFontSize": 13, "rowPadding": 2}}
             }},
            {"data": {"values": [{}]}, "mark": {"type": "rule", "color": "#e8141c", "strokeWidth": 2, "strokeDash": [5, 3]}, "encoding": {"x": {"datum": 0, "type": "quantitative", "axis": {"title": null, "labels": false, "values": [-4, -3.5, -3, -2.5, -2, -1.5, -1, -0.5, 0, 0.5, 1, 1.5, 2, 2.5, 3], "tickSize": {"condition": {"test": "datum.value % 1 !== 0", "value": 4.5}, "value": 9}}}}}
          ]
        },
        {
          "width": 252, "height": 155,
          "layer": [
            {"data": {"name": "L4"}, "mark": {"type": "line", "interpolate": "monotone", "strokeWidth": 1.8},
             "encoding": {
               "x": {"field": "x", "type": "quantitative", "scale": {"domain": [-4, 3], "nice": false, "zero": false}, "axis": {"title": "Energy, E(eV)", "titleFontSize": 16, "titlePadding": 8, "labelPadding": 13, "labelOverlap": false, "values": [-4, -3.5, -3, -2.5, -2, -1.5, -1, -0.5, 0, 0.5, 1, 1.5, 2, 2.5, 3], "labelExpr": "datum.value % 1 === 0 ? '' + datum.value : ''", "tickSize": {"condition": {"test": "datum.value % 1 !== 0", "value": 4.5}, "value": 9}}},
               "y": {"field": "y", "type": "quantitative", "scale": {"domain": [0, 19], "nice": false}, "axis": {"title": null, "labelOverlap": false, "values": [0, 2.5, 5, 7.5, 10, 12.5, 15, 17.5], "labelExpr": "datum.value % 5 === 0 ? '' + datum.value : ''", "labelPadding": 3, "tickSize": {"condition": {"test": "datum.value % 5 !== 0", "value": 5}, "value": 10}}},
               "color": {"field": "s", "type": "nominal", "scale": {"domain": ["O-2s", "O-2p"], "range": ["#f08a1c", "#7f00ff"]}, "legend": {"title": null, "orient": "none", "legendX": 185, "legendY": 13.8, "symbolType": "M-1,0H5.6", "labelOffset": 26, "labelFontSize": 13, "rowPadding": 2}}
             }},
            {"data": {"values": [{}]}, "mark": {"type": "rule", "color": "#e8141c", "strokeWidth": 2, "strokeDash": [5, 3]}, "encoding": {"x": {"datum": 0, "type": "quantitative", "axis": {"title": "Energy, E(eV)", "titleFontSize": 16, "titlePadding": 8, "labelPadding": 13, "labelOverlap": false, "values": [-4, -3.5, -3, -2.5, -2, -1.5, -1, -0.5, 0, 0.5, 1, 1.5, 2, 2.5, 3], "labelExpr": "datum.value % 1 === 0 ? '' + datum.value : ''", "tickSize": {"condition": {"test": "datum.value % 1 !== 0", "value": 4.5}, "value": 9}}}}}
          ]
        }
      ]
    },
    {
      "bounds": "flush",
      "spacing": 0,
      "resolve": {"scale": {"color": "independent", "x": "independent", "y": "independent"}, "legend": {"color": "independent"}},
      "vconcat": [
        {
          "width": 252, "height": 155,
          "title": {"text": "With spin(b)", "offset": -1},
          "layer": [
            {"data": {"name": "R1"}, "mark": {"type": "line", "strokeWidth": 1.6},
             "encoding": {
               "x": {"field": "x", "type": "quantitative", "scale": {"domain": [-20, 20], "nice": false, "zero": false}, "axis": {"title": null, "labels": false, "values": [-20, -15, -10, -5, 0, 5, 10, 15, 20], "tickSize": {"condition": {"test": "datum.value % 10 !== 0", "value": 4.5}, "value": 9}}},
               "y": {"field": "y", "type": "quantitative", "scale": {"domain": [-20, 60], "nice": false}, "axis": {"title": "TlMnO₃", "titleFontSize": 15, "titleAngle": 0, "titleX": -52, "titleY": 44, "titleAlign": "center", "titleBaseline": "alphabetic", "labelOverlap": false, "values": [-20, -10, 0, 10, 20, 30, 40, 50, 60], "labelExpr": "datum.value % 20 === 0 ? '' + datum.value : ''", "labelPadding": 7, "tickSize": {"condition": {"test": "datum.value % 20 !== 0", "value": 3}, "value": 6}}},
               "color": {"field": "s", "type": "nominal", "scale": {"domain": ["TDOS(Up-spin)", "TDOS(down-spin)"], "range": ["#ff00ff", "#2d7a1f"]}, "legend": {"title": null, "orient": "none", "legendX": 131, "legendY": 5.8, "symbolType": "M-1,0H4.2", "labelOffset": 19, "labelFontSize": 11, "rowPadding": 2.3}}
             }},
            {"data": {"values": [{}]}, "mark": {"type": "rule", "color": "#e8141c", "strokeWidth": 2, "strokeDash": [5, 3]}, "encoding": {"x": {"datum": 0, "type": "quantitative", "axis": {"title": null, "labels": false, "values": [-20, -15, -10, -5, 0, 5, 10, 15, 20], "tickSize": {"condition": {"test": "datum.value % 10 !== 0", "value": 4.5}, "value": 9}}}}},
            {"data": {"values": [{}]}, "mark": {"type": "text", "text": "E", "fontSize": 16, "fontWeight": "bold", "fontStyle": "italic", "align": "center", "baseline": "alphabetic", "color": "#000000"},
             "encoding": {
               "x": {"datum": -3.16, "type": "quantitative", "axis": {"title": null, "labels": false, "values": [-20, -15, -10, -5, 0, 5, 10, 15, 20], "tickSize": {"condition": {"test": "datum.value % 10 !== 0", "value": 4.5}, "value": 9}}},
               "y": {"datum": 50.7, "type": "quantitative", "axis": {"title": "TlMnO₃", "titleFontSize": 15, "titleAngle": 0, "titleX": -52, "titleY": 44, "titleAlign": "center", "titleBaseline": "alphabetic", "labelOverlap": false, "values": [-20, -10, 0, 10, 20, 30, 40, 50, 60], "labelExpr": "datum.value % 20 === 0 ? '' + datum.value : ''", "labelPadding": 7, "tickSize": {"condition": {"test": "datum.value % 20 !== 0", "value": 3}, "value": 6}}}
             }},
            {"data": {"values": [{}]}, "mark": {"type": "text", "text": "F", "fontSize": 12, "fontWeight": "bold", "align": "center", "baseline": "alphabetic", "color": "#000000"},
             "encoding": {
               "x": {"datum": -1.7, "type": "quantitative", "axis": {"title": null, "labels": false, "values": [-20, -15, -10, -5, 0, 5, 10, 15, 20], "tickSize": {"condition": {"test": "datum.value % 10 !== 0", "value": 4.5}, "value": 9}}},
               "y": {"datum": 50.0, "type": "quantitative", "axis": {"title": "TlMnO₃", "titleFontSize": 15, "titleAngle": 0, "titleX": -52, "titleY": 44, "titleAlign": "center", "titleBaseline": "alphabetic", "labelOverlap": false, "values": [-20, -10, 0, 10, 20, 30, 40, 50, 60], "labelExpr": "datum.value % 20 === 0 ? '' + datum.value : ''", "labelPadding": 7, "tickSize": {"condition": {"test": "datum.value % 20 !== 0", "value": 3}, "value": 6}}}
             }}
          ]
        },
        {
          "width": 252, "height": 156,
          "layer": [
            {"data": {"name": "R2"}, "mark": {"type": "line", "strokeWidth": 1.6},
             "encoding": {
               "x": {"field": "x", "type": "quantitative", "scale": {"domain": [-20, 20], "nice": false, "zero": false}, "axis": {"title": null, "labels": false, "values": [-20, -15, -10, -5, 0, 5, 10, 15, 20], "tickSize": {"condition": {"test": "datum.value % 10 !== 0", "value": 4.5}, "value": 9}}},
               "y": {"field": "y", "type": "quantitative", "scale": {"domain": [-25, 25], "nice": false}, "axis": {"title": null, "labelOverlap": false, "values": [-20, -15, -10, -5, 0, 5, 10, 15, 20], "labelExpr": "datum.value % 10 === 0 ? '' + datum.value : ''", "labelPadding": 7, "tickSize": {"condition": {"test": "datum.value % 10 !== 0", "value": 3}, "value": 6}}},
               "color": {"field": "s", "type": "nominal", "scale": {"domain": ["Tl-3s(up-spin)", "Tl-4s(down-spin)", "Tl-3p(up-spin)", " ", "  ", "Tl-3p(down-spin)", "Tl-3d(up-spin)", "Tl-3d(down-spin)"], "range": ["#333333", "#e8262a", "#2a5fd6", "rgba(255,255,255,0)", "rgba(255,255,255,0)", "#4caf50", "#a35fe6", "#c8960a"]}, "legend": {"title": null, "orient": "none", "legendX": 135.5, "legendY": 26.5, "symbolType": "M-1,0H4.2", "labelOffset": 19, "labelFontSize": 11, "rowPadding": 2.3}}
             }},
            {"data": {"values": [{}]}, "mark": {"type": "rule", "color": "#e8141c", "strokeWidth": 2, "strokeDash": [5, 3]}, "encoding": {"x": {"datum": 0, "type": "quantitative", "axis": {"title": null, "labels": false, "values": [-20, -15, -10, -5, 0, 5, 10, 15, 20], "tickSize": {"condition": {"test": "datum.value % 10 !== 0", "value": 4.5}, "value": 9}}}}}
          ]
        },
        {
          "width": 252, "height": 155,
          "layer": [
            {"data": {"name": "R3"}, "mark": {"type": "line", "strokeWidth": 1.6},
             "encoding": {
               "x": {"field": "x", "type": "quantitative", "scale": {"domain": [-20, 20], "nice": false, "zero": false}, "axis": {"title": null, "labels": false, "values": [-20, -15, -10, -5, 0, 5, 10, 15, 20], "tickSize": {"condition": {"test": "datum.value % 10 !== 0", "value": 4.5}, "value": 9}}},
               "y": {"field": "y", "type": "quantitative", "scale": {"domain": [-12, 8], "nice": false}, "axis": {"title": "Density of States (States/eV)", "titleFontSize": 18, "titleAngle": 270, "titleX": -40, "titleY": 40, "titleAlign": "center", "titleBaseline": "alphabetic", "labelOverlap": false, "values": [-12, -10, -8, -6, -4, -2, 0, 2, 4, 6, 8], "labelExpr": "datum.value % 4 === 0 ? '' + datum.value : ''", "labelPadding": 7, "tickSize": {"condition": {"test": "datum.value % 4 !== 0", "value": 3}, "value": 6}}},
               "color": {"field": "s", "type": "nominal", "scale": {"domain": ["Mn-3s(up-spin)", "Mn-4s(down-spin)", "Mn-3p(up-spin)", "Mn-3p(down-spin)", "Mn-3d(up-spin)", "Mn-3d(down-spin)"], "range": ["#333333", "#e8262a", "#2a5fd6", "#4caf50", "#a35fe6", "#c8960a"]}, "legend": {"title": null, "orient": "none", "legendX": 1, "legendY": 74.2, "symbolType": "M-1,0H4", "labelOffset": 18, "labelFontSize": 11, "rowPadding": 2.5}}
             }},
            {"data": {"values": [{}]}, "mark": {"type": "rule", "color": "#e8141c", "strokeWidth": 2, "strokeDash": [5, 3]}, "encoding": {"x": {"datum": 0, "type": "quantitative", "axis": {"title": null, "labels": false, "values": [-20, -15, -10, -5, 0, 5, 10, 15, 20], "tickSize": {"condition": {"test": "datum.value % 10 !== 0", "value": 4.5}, "value": 9}}}}}
          ]
        },
        {
          "width": 252, "height": 155,
          "layer": [
            {"data": {"name": "R4"}, "mark": {"type": "line", "strokeWidth": 1.6},
             "encoding": {
               "x": {"field": "x", "type": "quantitative", "scale": {"domain": [-20, 20], "nice": false, "zero": false}, "axis": {"title": "Energy, E(eV)", "titleFontSize": 16, "titlePadding": 8, "labelPadding": 13, "labelOverlap": false, "values": [-20, -15, -10, -5, 0, 5, 10, 15, 20], "labelExpr": "datum.value % 10 === 0 ? '' + datum.value : ''", "tickSize": {"condition": {"test": "datum.value % 10 !== 0", "value": 4.5}, "value": 9}}},
               "y": {"field": "y", "type": "quantitative", "scale": {"domain": [-12, 10.1], "nice": false}, "axis": {"title": null, "labelOverlap": false, "values": [-12, -9, -6, -3, 0, 3, 6, 9], "labelExpr": "datum.value % 6 === 0 ? '' + datum.value : ''", "labelPadding": 7, "tickSize": {"condition": {"test": "datum.value % 6 !== 0", "value": 3}, "value": 6}}},
               "color": {"field": "s", "type": "nominal", "scale": {"domain": ["O-2s(up-spin)", "O-2s(down-spin)", "O-2p(up-spin)", "O-2p(down-spin)", "base"], "range": ["#333333", "#e8262a", "#2a5fd6", "#4caf50", "#c8960a"]}, "legend": {"title": null, "orient": "none", "legendX": 137, "legendY": 7.2, "symbolType": "M-1,0H4.2", "labelOffset": 19, "labelFontSize": 11, "rowPadding": 2.3, "values": ["O-2s(up-spin)", "O-2s(down-spin)", "O-2p(up-spin)", "O-2p(down-spin)"]}}
             }},
            {"data": {"values": [{}]}, "mark": {"type": "rule", "color": "#e8141c", "strokeWidth": 2, "strokeDash": [5, 3]}, "encoding": {"x": {"datum": 0, "type": "quantitative", "axis": {"title": "Energy, E(eV)", "titleFontSize": 16, "titlePadding": 8, "labelPadding": 13, "labelOverlap": false, "values": [-20, -15, -10, -5, 0, 5, 10, 15, 20], "labelExpr": "datum.value % 10 === 0 ? '' + datum.value : ''", "tickSize": {"condition": {"test": "datum.value % 10 !== 0", "value": 4.5}, "value": 9}}}}}
          ]
        }
      ]
    }
  ]
}
